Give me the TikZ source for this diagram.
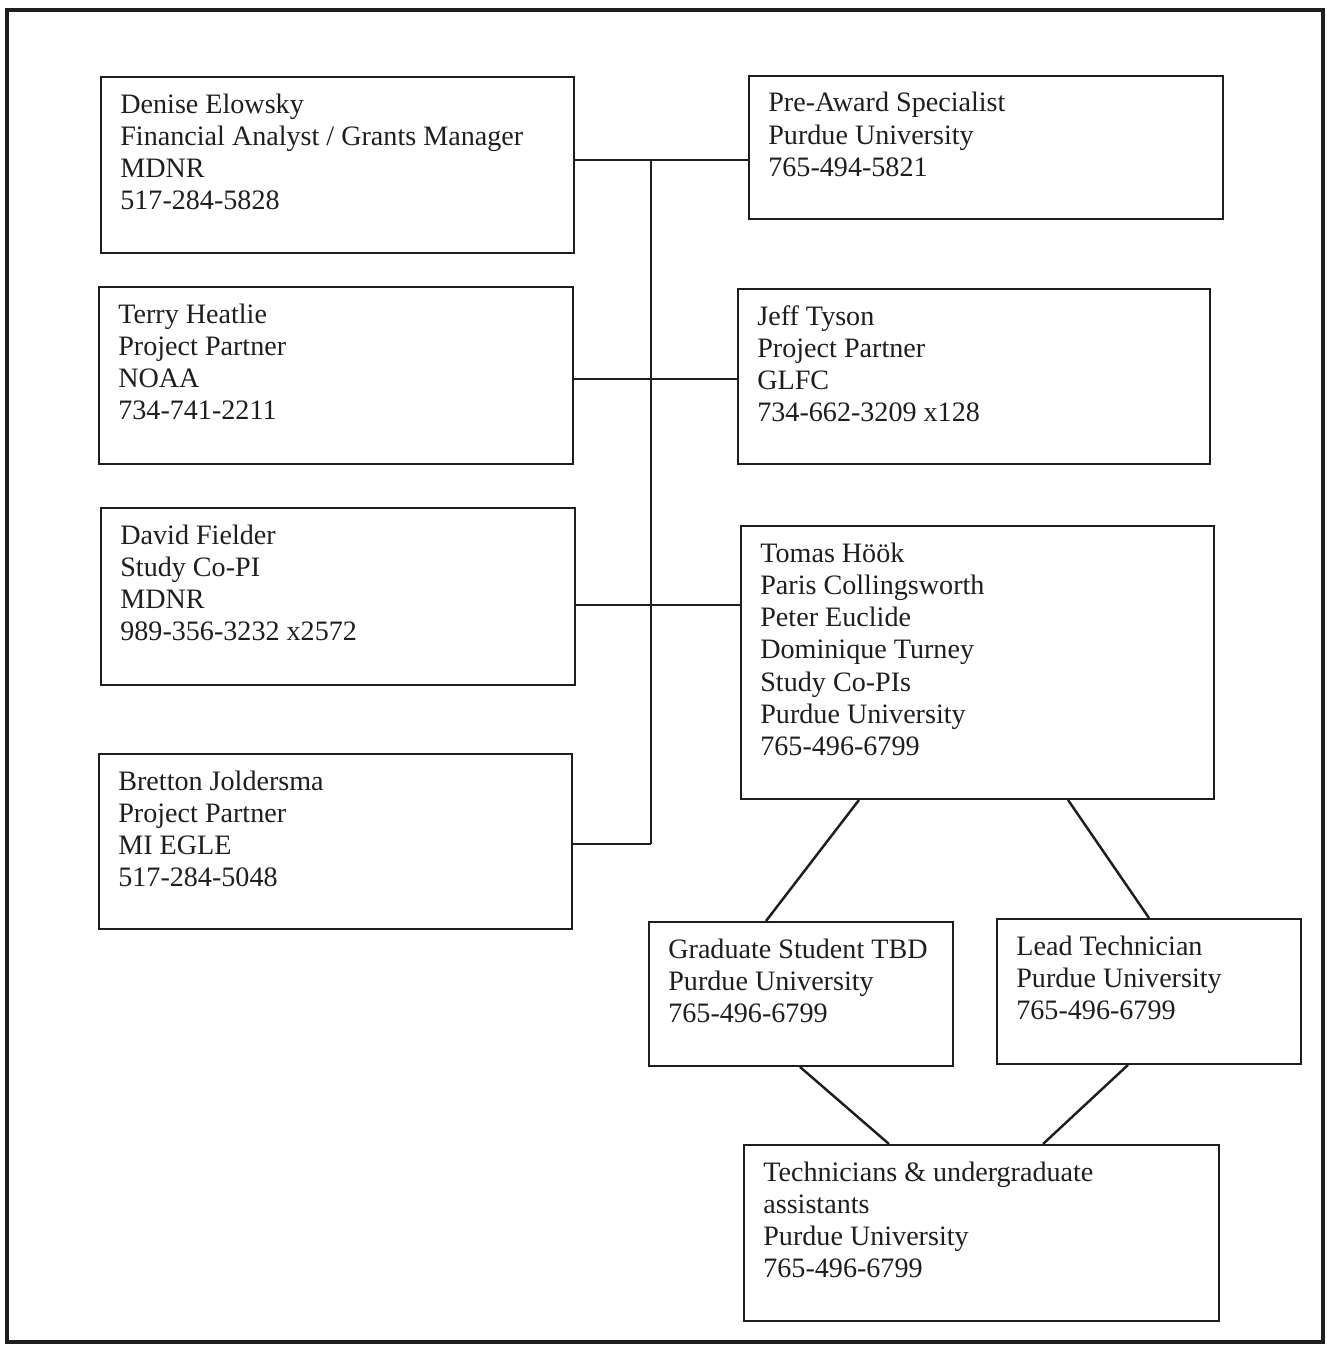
\documentclass[tikz,border=0pt]{standalone}
\usepackage{fontspec}
\setmainfont{Liberation Serif}
\usetikzlibrary{calc}
\definecolor{ink}{RGB}{30,30,30}
\newcommand{\mybox}[5]{\node[orgbox, anchor=north west, minimum width={(#4-#2)*0.02cm}, minimum height={(#5-#3)*0.02cm}] (#1) at (#2,#3) {};}
\newcommand{\mytext}[3]{\node[orgtext] (#1) at ($(#2.north west)+(20,37)$) {\begin{tabular}[t]{@{}l@{}}#3\end{tabular}};}
\begin{document}
\begin{tikzpicture}[x=0.02cm,y=-0.02cm,
  orgbox/.style={draw=ink, line width=1.1pt, inner sep=0pt, fill=none},
  orgtext/.style={anchor=base west, inner sep=0pt, text=ink, font=\fontsize{16}{18.4}\selectfont},
  link/.style={draw=ink, line width=1.4pt},
  outer/.style={draw=ink, line width=2.4pt}]
\useasboundingbox (0,0) rectangle (1326,1345);
\draw[outer] (7,10) rectangle (1323,1342);
% boxes
\mybox{d}{100}{76}{573}{252}
\mybox{p}{748}{75}{1222}{218}
\mybox{t}{98}{286}{572}{463}
\mybox{j}{737}{288}{1209}{463}
\mybox{v}{100}{507}{574}{684}
\mybox{h}{740}{525}{1213}{798}
\mybox{b}{98}{753}{571}{928}
\mybox{g}{648}{921}{952}{1065}
\mybox{l}{996}{918}{1300}{1063}
\mybox{u}{743}{1144}{1218}{1320}
% texts
\mytext{dt}{d}{Denise Elowsky\\Financial Analyst / Grants Manager\\MDNR\\517-284-5828}
\mytext{pt}{p}{Pre-Award Specialist\\Purdue University\\765-494-5821}
\mytext{tt}{t}{Terry Heatlie\\Project Partner\\NOAA\\734-741-2211}
\mytext{jt}{j}{Jeff Tyson\\Project Partner\\GLFC\\734-662-3209 x128}
\mytext{vt}{v}{David Fielder\\Study Co-PI\\MDNR\\989-356-3232 x2572}
\mytext{ht}{h}{Tomas Höök\\Paris Collingsworth\\Peter Euclide\\Dominique Turney\\Study Co-PIs\\Purdue University\\765-496-6799}
\mytext{bt}{b}{Bretton Joldersma\\Project Partner\\MI EGLE\\517-284-5048}
\mytext{gt}{g}{Graduate Student TBD\\Purdue University\\765-496-6799}
\mytext{lt}{l}{Lead Technician\\Purdue University\\765-496-6799}
\mytext{ut}{u}{Technicians \& undergraduate\\assistants\\Purdue University\\765-496-6799}
% connectors
\coordinate (bustop) at (651,160);
\coordinate (bus2) at (651,379);
\coordinate (bus3) at (651,605);
\coordinate (busbot) at (651,844);
\draw[link] (d.east |- bustop) -- (p.west |- bustop);
\draw[link] (bustop) -- (busbot);
\draw[link] (t.east |- bus2) -- (j.west |- bus2);
\draw[link] (v.east |- bus3) -- (h.west |- bus3);
\draw[link] (b.east |- busbot) -- (busbot);
\draw[link] ($(h.south west)+(119,0)$) -- ($(g.north west)+(118,0)$);
\draw[link] ($(h.south west)+(328,0)$) -- ($(l.north west)+(153,0)$);
\draw[link] ($(g.south west)+(152,0)$) -- ($(u.north west)+(146,0)$);
\draw[link] ($(l.south west)+(132,0)$) -- ($(u.north west)+(300,0)$);
\end{tikzpicture}
\end{document}
